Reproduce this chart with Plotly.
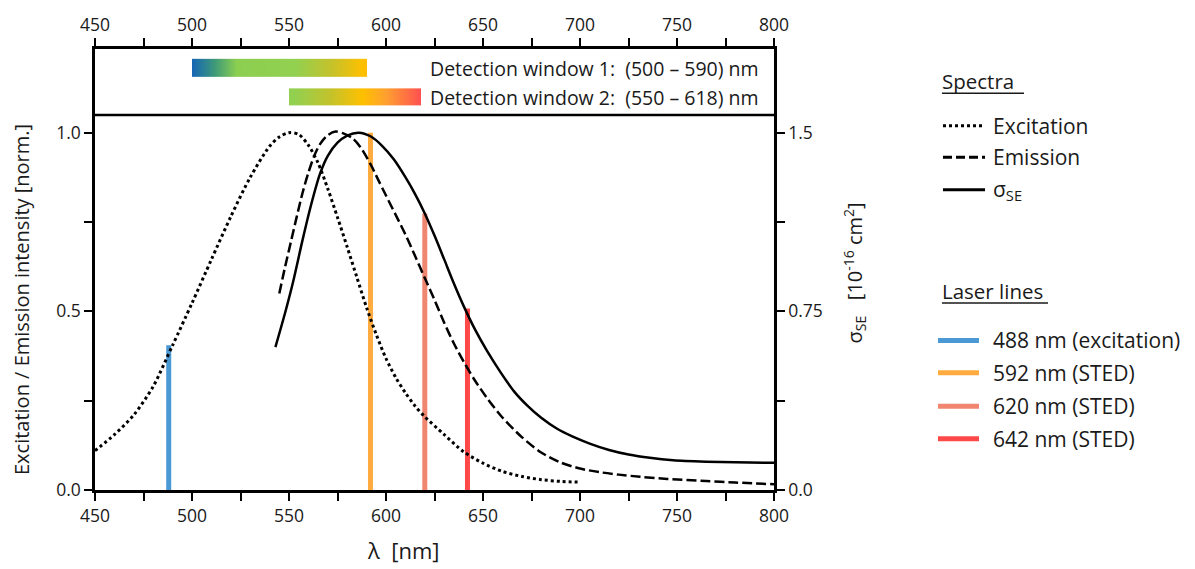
import numpy as np
import plotly.graph_objects as go

# ---- spectra (wavelength in nm, normalised intensity) ----
exc_nm = [450, 460, 470, 480, 490, 500, 510, 520, 530, 540, 545, 550, 555, 560, 565, 570,
          575, 580, 585, 590, 595, 600, 605, 610, 615, 620, 630, 640, 650, 660, 670, 680, 690, 700]
exc_val = [0.110, 0.155, 0.21, 0.29, 0.405, 0.523, 0.645, 0.765, 0.875, 0.962, 0.988, 1.0,
           0.995, 0.965, 0.915, 0.843, 0.763, 0.68, 0.595, 0.51, 0.435, 0.368, 0.315, 0.272,
           0.235, 0.205, 0.155, 0.107, 0.075, 0.052, 0.038, 0.029, 0.024, 0.022]

em_nm = [545, 548, 551, 554, 557, 560, 563, 566, 570, 574, 578, 583, 587, 592, 596, 600, 605,
         610, 615, 620, 625, 630, 635, 641, 646, 652, 660, 670, 680, 690, 700, 710, 720, 731,
         745, 765, 780, 800]
em_val = [0.55, 0.625, 0.695, 0.765, 0.832, 0.888, 0.935, 0.968, 0.993, 1.003, 0.998, 0.983,
          0.958, 0.912, 0.868, 0.824, 0.77, 0.715, 0.655, 0.593, 0.532, 0.468, 0.41, 0.35,
          0.305, 0.258, 0.203, 0.148, 0.105, 0.077, 0.06, 0.05, 0.043, 0.037, 0.031, 0.025,
          0.021, 0.016]

# stimulated-emission cross section, in 1e-16 cm^2
se_nm = [543, 548, 552, 557, 561, 566, 570, 575, 580, 586, 592, 598, 604, 610, 615, 620, 625,
         630, 635, 640, 646, 652, 659, 666, 673, 680, 688, 696, 705, 715, 725, 736, 748, 765,
         780, 800]
se_val = [0.600, 0.744, 0.870, 1.050, 1.185, 1.328, 1.403, 1.458, 1.488, 1.500, 1.485, 1.445,
          1.388, 1.313, 1.242, 1.161, 1.068, 0.968, 0.867, 0.773, 0.672, 0.585, 0.495, 0.414,
          0.353, 0.303, 0.258, 0.225, 0.195, 0.168, 0.149, 0.135, 0.125, 0.119, 0.116, 0.114]

# ---- laser lines ----
laser_nm = [488, 592, 620, 642]
laser_height = [0.405, 1.0, 0.774, 0.508]
laser_label = ["488 nm (excitation)", "592 nm (STED)", "620 nm (STED)", "642 nm (STED)"]
laser_color = ["#4a98d4", "#ffab40", "#f08570", "#ff4848"]

# ---- detection windows ----
det_lo = [500, 550]
det_hi = [590, 618]
det_label = ["Detection window 1:  (500 – 590) nm", "Detection window 2:  (550 – 618) nm"]

# ---- axis ticks ----
x_ticks = list(range(450, 801, 25))
x_ticktext = [str(v) if v % 50 == 0 else "" for v in x_ticks]
yl_ticks = [0, 0.25, 0.5, 0.75, 1.0]
yl_ticktext = ["0.0", "", "0.5", "", "1.0"]
yr_ticks = [0, 0.375, 0.75, 1.125, 1.5]
yr_ticktext = ["0.0", "", "0.75", "", "1.5"]

FONT = "Open Sans"
TXT = "#1a1a1a"
W, H = 1195, 569
L, R, T, B = 95, 774, 42, 490          # plot box in pixels
YTOP = (B - T) / (B - 127)             # left-axis value at the top edge (1.0 sits at y=127)
SE_SCALE = 1.5                          # right-axis value matching 1.0 on the left


def px(x):
    return (x - L) / (R - L)


def py(y):
    return (B - y) / (B - T)


def yval(y):
    return (B - y) / (B - 127)


fig = go.Figure()

# gradient bars for detection windows
wl_scale = [
    [0.0, "#1565b5"], [(512 - 500) / 118, "#3f9a78"], [(523 - 500) / 118, "#8ccf50"],
    [(553 - 500) / 118, "#92d050"], [(572 - 500) / 118, "#c5c22a"], [(588 - 500) / 118, "#ffc000"],
    [(600 - 500) / 118, "#ffa030"], [1.0, "#ff5050"],
]
bar_rows = [(52, 70), (82, 99)]
for lo, hi, (ya, yb) in zip(det_lo, det_hi, bar_rows):
    edges = np.linspace(lo, hi, 181)
    mids = (edges[:-1] + edges[1:]) / 2
    fig.add_trace(go.Heatmap(
        x=edges, y=[yval(yb), yval(ya)], z=[mids], zmin=500, zmax=618,
        colorscale=wl_scale, showscale=False, hoverinfo="skip"))

# laser lines
for w, h, c in zip(laser_nm, laser_height, laser_color):
    fig.add_trace(go.Scatter(x=[w, w], y=[0, h], mode="lines",
                             line=dict(color=c, width=5), showlegend=False, hoverinfo="skip"))

# spectra
fig.add_trace(go.Scatter(x=exc_nm, y=exc_val, mode="lines", line_shape="spline",
                         line=dict(color="black", width=3, dash="3px,3px", smoothing=0.8),
                         showlegend=False))
fig.add_trace(go.Scatter(x=em_nm, y=em_val, mode="lines", line_shape="spline",
                         line=dict(color="black", width=2.5, dash="10px,4px", smoothing=0.8),
                         showlegend=False))
fig.add_trace(go.Scatter(x=se_nm, y=se_val, mode="lines", line_shape="spline", yaxis="y2",
                         line=dict(color="black", width=2.5, smoothing=0.8), showlegend=False))
# invisible trace to activate the top axis
fig.add_trace(go.Scatter(x=[450, 800], y=[0, 0], xaxis="x2", mode="lines",
                         line=dict(width=0), showlegend=False, hoverinfo="skip"))

axis_common = dict(showline=True, linecolor="black", linewidth=2.5, ticks="outside",
                   ticklen=8, tickwidth=2, tickcolor="black", showgrid=False, zeroline=False,
                   tickfont=dict(family=FONT, size=17.5, color=TXT))

fig.update_layout(
    width=W, height=H,
    margin=dict(l=L, r=W - R, t=T, b=H - B),
    plot_bgcolor="white", paper_bgcolor="white",
    xaxis=dict(range=[450, 800], tickvals=x_ticks, ticktext=x_ticktext, **axis_common),
    xaxis2=dict(range=[450, 800], tickvals=x_ticks, ticktext=x_ticktext, overlaying="x",
                side="top", anchor="y", **axis_common),
    yaxis=dict(range=[0, YTOP], tickvals=yl_ticks, ticktext=yl_ticktext, **axis_common),
    yaxis2=dict(range=[0, YTOP * SE_SCALE], tickvals=yr_ticks, ticktext=yr_ticktext,
                overlaying="y", side="right", anchor="x", **axis_common),
    showlegend=False,
)

shapes = []
annotations = []
# separator between the detection-window band and the spectra
shapes.append(dict(type="line", xref="paper", yref="paper", x0=0, x1=1,
                   y0=py(109), y1=py(109), line=dict(color="black", width=2.5)))

for text, yc in zip(det_label, [62, 91]):
    annotations.append(dict(text=text, xref="paper", yref="paper", x=px(428), y=py(yc),
                            xanchor="left", yanchor="middle", showarrow=False,
                            font=dict(family=FONT, size=19.5, color=TXT)))

# axis titles
annotations.append(dict(text="λ  [nm]", xref="paper", yref="paper", x=px(403), y=py(551),
                        xanchor="center", yanchor="middle", showarrow=False,
                        font=dict(family=FONT, size=22, color=TXT)))
annotations.append(dict(text="Excitation / Emission intensity [norm.]", xref="paper", yref="paper",
                        x=px(21), y=py(297), textangle=-90, xanchor="center", yanchor="middle",
                        showarrow=False, font=dict(family=FONT, size=20, color=TXT)))
annotations.append(dict(text="σ<sub>SE</sub>   [10<sup>-16</sup> cm<sup>2</sup>]", xref="paper",
                        yref="paper", x=px(855), y=py(270), textangle=-90, xanchor="center",
                        yanchor="middle", showarrow=False,
                        font=dict(family=FONT, size=20, color=TXT)))

# legend: spectra
annotations.append(dict(text="Spectra", xref="paper", yref="paper", x=px(940), y=py(75),
                        xanchor="left", yanchor="middle", showarrow=False,
                        font=dict(family=FONT, size=20.5, color=TXT)))
shapes.append(dict(type="line", xref="paper", yref="paper", x0=px(942), x1=px(1024),
                   y0=py(87), y1=py(87), line=dict(color=TXT, width=1.5)))
spec_rows = [("Excitation", 120, dict(width=3, dash="3px,3px")),
             ("Emission", 152, dict(width=3, dash="9px,4px")),
             ("σ<sub>SE</sub>", 185, dict(width=3))]
for text, yc, ls in spec_rows:
    shapes.append(dict(type="line", xref="paper", yref="paper", x0=px(943), x1=px(985),
                       y0=py(yc), y1=py(yc), line=dict(color="black", **ls)))
    annotations.append(dict(text=text, xref="paper", yref="paper", x=px(991), y=py(yc),
                            xanchor="left", yanchor="middle", showarrow=False,
                            font=dict(family=FONT, size=21, color=TXT)))

# legend: laser lines
annotations.append(dict(text="Laser lines", xref="paper", yref="paper", x=px(940), y=py(288),
                        xanchor="left", yanchor="middle", showarrow=False,
                        font=dict(family=FONT, size=20.5, color=TXT)))
shapes.append(dict(type="line", xref="paper", yref="paper", x0=px(942), x1=px(1048),
                   y0=py(300), y1=py(300), line=dict(color=TXT, width=1.5)))
for text, c, yc in zip(laser_label, laser_color, [338, 371, 405, 438]):
    shapes.append(dict(type="line", xref="paper", yref="paper", x0=px(938), x1=px(979),
                       y0=py(yc), y1=py(yc), line=dict(color=c, width=5)))
    annotations.append(dict(text=text, xref="paper", yref="paper", x=px(991), y=py(yc),
                            xanchor="left", yanchor="middle", showarrow=False,
                            font=dict(family=FONT, size=21, color=TXT)))

fig.update_layout(shapes=shapes, annotations=annotations)
fig.write_html("out.html")
